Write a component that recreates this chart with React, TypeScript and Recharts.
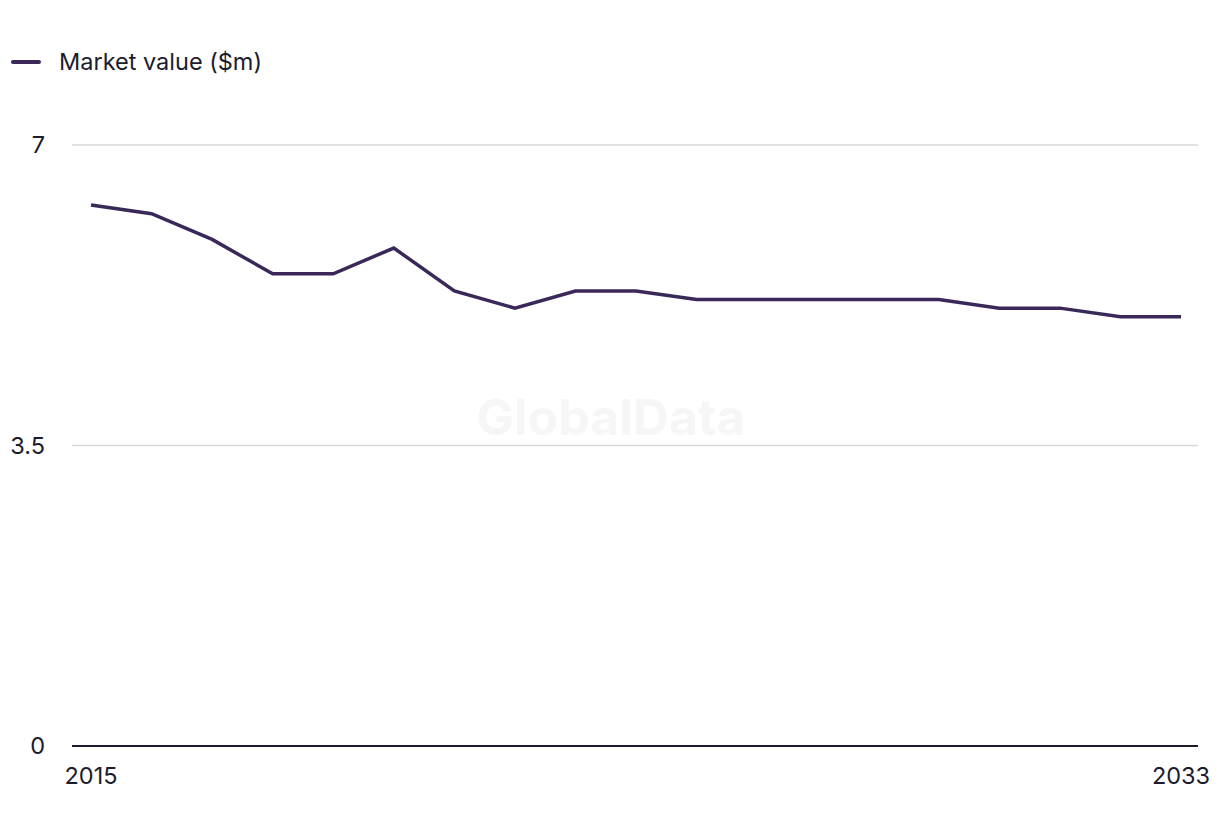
import React from 'react';
import { LineChart, Line, XAxis, YAxis, CartesianGrid, Legend } from 'recharts';

const years = ['2015','2016','2017','2018','2019','2020','2021','2022','2023','2024','2025','2026','2027','2028','2029','2030','2031','2032','2033'];
const marketValue = [6.3, 6.2, 5.9, 5.5, 5.5, 5.8, 5.3, 5.1, 5.3, 5.3, 5.2, 5.2, 5.2, 5.2, 5.2, 5.1, 5.1, 5.0, 5.0];
const yTicks = [0, 3.5, 7];
const xTicks = ['2015', '2033'];
const seriesName = 'Market value ($m)';

const data = years.map((y, i) => ({ year: y, value: marketValue[i] }));

const FONT = 'Inter, "Liberation Sans", sans-serif';
const LINE_COLOR = '#3a2858';
const TEXT_COLOR = '#1c1c2e';

const LegendContent = () => (
  <div style={{ height: 105, display: 'flex', alignItems: 'flex-start', fontFamily: FONT }}>
    <div style={{ display: 'flex', alignItems: 'center', paddingTop: 8, paddingLeft: 11 }}>
      <div style={{ width: 30, height: 4, background: LINE_COLOR, borderRadius: 2 }} />
      <span style={{ marginLeft: 18, fontSize: 23.5, color: TEXT_COLOR, lineHeight: '28px' }}>{seriesName}</span>
    </div>
  </div>
);

export default function App() {
  return (
    <div style={{ position: 'absolute', left: 0, top: 0, background: '#fff' }}>
      <LineChart width={1220} height={836} data={data} margin={{ top: 40, right: 22, bottom: 50, left: 0 }}>
        <text x={611} y={421} textAnchor="middle" dominantBaseline="middle" fontFamily={FONT} fontWeight={700} fontSize={50} fill="#f6f6f6">GlobalData</text>
        <Legend verticalAlign="top" align="left" wrapperStyle={{ top: 40, left: 0 }} content={<LegendContent />} />
        <CartesianGrid horizontal={true} vertical={false} stroke="#d9d9d9" strokeWidth={1.5} />
        <XAxis
          dataKey="year"
          ticks={xTicks}
          interval={0}
          tickLine={false}
          axisLine={{ stroke: TEXT_COLOR, strokeWidth: 2 }}
          padding={{ left: 19, right: 17 }}
          tick={{ fill: TEXT_COLOR, fontSize: 23.5, fontFamily: FONT }}
          tickMargin={15}
          height={40}
        />
        <YAxis
          domain={[0, 7]}
          ticks={yTicks}
          axisLine={false}
          tickLine={false}
          tickSize={0}
          tickMargin={27}
          width={72}
          tick={{ fill: TEXT_COLOR, fontSize: 23.5, fontFamily: FONT }}
        />
        <Line type="linear" dataKey="value" name={seriesName} stroke={LINE_COLOR} strokeWidth={3.5} dot={false} isAnimationActive={false} />
      </LineChart>
    </div>
  );
}
